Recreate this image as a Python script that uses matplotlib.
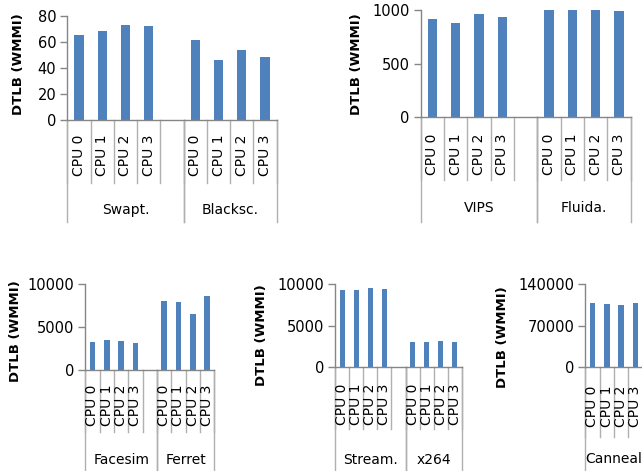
"""DTLB misses per benchmark and CPU, five small bar panels."""

import matplotlib
matplotlib.use('Agg')
import matplotlib.pyplot as plt
from matplotlib.transforms import blended_transform_factory

W, H = 642, 471
BAR_COLOR = '#4f81bd'
AXIS_COLOR = '#868686'
SEP_COLOR = '#b0b0b0'

CPUS = ['CPU 0', 'CPU 1', 'CPU 2', 'CPU 3']

SWAPT = [65.4, 68.5, 72.8, 72.3]
BLACKSC = [61.3, 45.9, 53.8, 48.2]
VIPS = [916, 885, 969, 938]
FLUIDA = [1006, 1004, 1003, 994]
FACESIM = [3307, 3502, 3424, 3152]
FERRET = [8054, 7977, 6576, 8638]
STREAM = [9277, 9317, 9558, 9398]
X264 = [3092, 3092, 3213, 3092]
CANNEAL = [107950, 107390, 105700, 108510]

plt.rcParams['font.family'] = 'DejaVu Sans'


def fx(px):
    return px / W


def fy(py):
    return 1 - py / H


def panel(fig, box, groups, yticks, ylabel_at, cpu_y, row_bottom, group_y,
          box_bottom):
    """box = (left, right, top, bottom) of the plot area in pixels."""
    left, right, top, bottom = box
    ax = fig.add_axes([fx(left), fy(bottom), (right - left) / W,
                       (bottom - top) / H])
    n_slots = 5 * len(groups) - 1

    xs, heights = [], []
    for g, (_, values) in enumerate(groups):
        for i, v in enumerate(values):
            xs.append(5 * g + i)
            heights.append(v)
    ax.bar(xs, heights, width=0.4, color=BAR_COLOR, zorder=2)

    ax.set_xlim(-0.5, n_slots - 0.5)
    ax.set_ylim(yticks[0], yticks[-1])
    ax.set_yticks(yticks)
    ax.set_yticklabels([str(t) for t in yticks], fontsize=10.5)
    ax.set_xticks([])
    ax.tick_params(axis='y', direction='out', length=5, width=1,
                   color=AXIS_COLOR, pad=3)
    for side in ('top', 'right'):
        ax.spines[side].set_visible(False)
    for side in ('left', 'bottom'):
        ax.spines[side].set_color(AXIS_COLOR)
        ax.spines[side].set_linewidth(1)

    # two-level category axis: CPU row and benchmark row
    tr = blended_transform_factory(ax.transData, fig.transFigure)
    for k in range(n_slots + 1):
        x = k - 0.5
        ax.plot([x, x], [fy(bottom), fy(row_bottom)], color=SEP_COLOR,
                lw=1, transform=tr, clip_on=False)
    for g, (name, _) in enumerate(groups):
        start = 5 * g - 0.5
        end = min(5 * g + 4.5, n_slots - 0.5)
        for x in (start, end):
            ax.plot([x, x], [fy(bottom), fy(box_bottom)], color=SEP_COLOR,
                    lw=1, transform=tr, clip_on=False)
        for i, cpu in enumerate(CPUS):
            ax.text(5 * g + i, fy(cpu_y), cpu, rotation=90, ha='center',
                    va='center', fontsize=10, transform=tr)
        ax.text((start + end) / 2, fy(group_y), name, ha='center',
                va='center', fontsize=10, transform=tr)

    fig.text(fx(ylabel_at[0]), fy(ylabel_at[1]), 'DTLB (WMMI)', rotation=90,
             ha='center', va='center', fontsize=9.5, fontweight='bold')
    return ax


fig = plt.figure(figsize=(W / 100, H / 100), dpi=100)

panel(fig, (67.3, 276.7, 16, 120), [('Swapt.', SWAPT), ('Blacksc.', BLACKSC)],
      [0, 20, 40, 60, 80], (18.7, 64), 155, 182.7, 210, 222)
panel(fig, (420.7, 630.7, 10.3, 117.3), [('VIPS', VIPS), ('Fluida.', FLUIDA)],
      [0, 500, 1000], (356.7, 64), 154, 180, 208, 222)
panel(fig, (85.3, 214.3, 284.3, 370), [('Facesim', FACESIM),
                                        ('Ferret', FERRET)],
      [0, 5000, 10000], (15.5, 331), 405, 432, 460, 480)
panel(fig, (335.3, 461.7, 284.3, 367.3), [('Stream.', STREAM),
                                           ('x264', X264)],
      [0, 5000, 10000], (262, 335), 404.5, 429, 460, 480)
panel(fig, (585.3, 642.6, 284.3, 367.3), [('Canneal', CANNEAL)],
      [0, 70000, 140000], (502.5, 337.5), 406, 437, 459, 480)

fig.savefig('out.png', dpi=100)
